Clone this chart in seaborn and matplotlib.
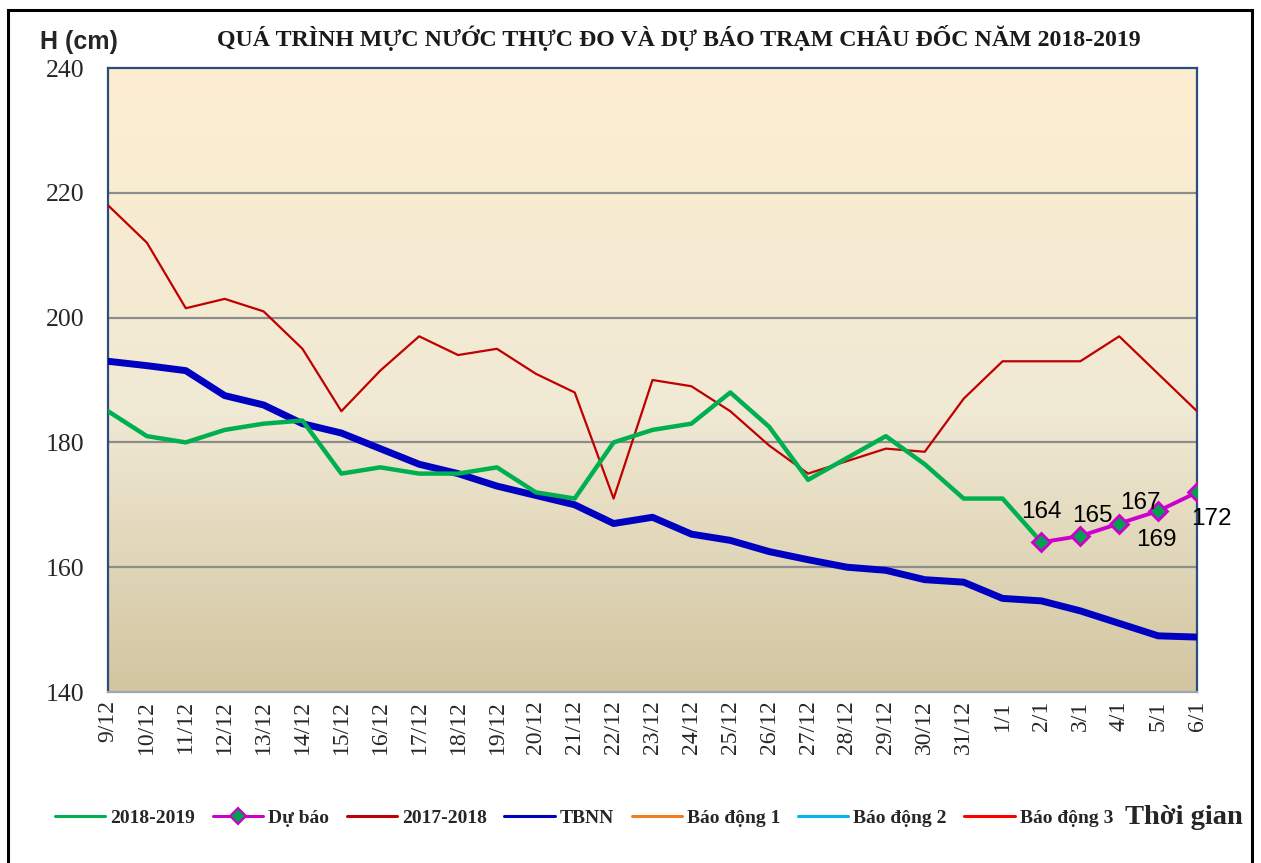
import numpy as np
import pandas as pd
import matplotlib
matplotlib.use("Agg")
import matplotlib.pyplot as plt
from matplotlib.colors import LinearSegmentedColormap
from matplotlib.lines import Line2D
from matplotlib.patches import Rectangle
import seaborn as sns

# --- data ---
dates = ["9/12", "10/12", "11/12", "12/12", "13/12", "14/12", "15/12", "16/12",
         "17/12", "18/12", "19/12", "20/12", "21/12", "22/12", "23/12", "24/12",
         "25/12", "26/12", "27/12", "28/12", "29/12", "30/12", "31/12",
         "1/1", "2/1", "3/1", "4/1", "5/1", "6/1"]

h_2018_2019 = [185, 181, 180, 182, 183, 183.5, 175, 176, 175, 175, 176, 172, 171,
               180, 182, 183, 188, 182.5, 174, 177.5, 181, 176.5, 171, 171, 164]

du_bao_dates = ["2/1", "3/1", "4/1", "5/1", "6/1"]
du_bao = [164, 165, 167, 169, 172]

h_2017_2018 = [218, 212, 201.5, 203, 201, 195, 185, 191.5, 197, 194, 195, 191, 188,
               171, 190, 189, 185, 179.5, 175, 177, 179, 178.5, 187, 193, 193, 193,
               197, 191, 185]

tbnn = [193, 192.3, 191.5, 187.5, 186, 183, 181.5, 179, 176.5, 175, 173, 171.5, 170,
        167, 168, 165.3, 164.3, 162.5, 161.2, 160, 159.5, 158, 157.6, 155, 154.6,
        153, 151, 149, 148.8]

pos = {d: i for i, d in enumerate(dates)}
df_now = pd.DataFrame({"x": [pos[d] for d in dates[:len(h_2018_2019)]], "H": h_2018_2019})
df_prev = pd.DataFrame({"x": [pos[d] for d in dates], "H": h_2017_2018})
df_tbnn = pd.DataFrame({"x": [pos[d] for d in dates], "H": tbnn})
df_fc = pd.DataFrame({"x": [pos[d] for d in du_bao_dates], "H": du_bao})

# --- style ---
sns.set_style("white")
plt.rcParams['font.family'] = ['Liberation Serif', 'DejaVu Serif']

c_green = "#00B050"
c_mag = "#CC00CC"
c_red = "#C00000"
c_blue = "#0000C0"

fig = plt.figure(figsize=(12.61, 8.63), dpi=100)
ax = fig.add_axes([108 / 1261, 1 - 692 / 863, 1089 / 1261, 624 / 863])

# gradient background of plot area
cmap = LinearSegmentedColormap.from_list(
    "bg", [(0, "#D2C5A0"), (0.45, "#F0E9D4"), (1, "#FDEED0")])
grad = np.linspace(0, 1, 256).reshape(-1, 1)
ax.imshow(grad, extent=[0, 1, 0, 1], transform=ax.transAxes, aspect="auto",
          cmap=cmap, origin="lower", zorder=0)

for yv in [160, 180, 200, 220]:
    ax.axhline(yv, color="#8C8C8C", lw=1.6, zorder=1)

sns.lineplot(data=df_prev, x="x", y="H", color=c_red, lw=1.6, ax=ax, zorder=3)
sns.lineplot(data=df_tbnn, x="x", y="H", color=c_blue, lw=5, ax=ax, zorder=4)
sns.lineplot(data=df_now, x="x", y="H", color=c_green, lw=3.2, ax=ax, zorder=5)
sns.lineplot(data=df_fc, x="x", y="H", color=c_mag, lw=2.8, marker="D",
             markersize=9, markerfacecolor="#00A050", markeredgecolor=c_mag,
             markeredgewidth=2, ax=ax, zorder=6)

# data labels for forecast
offsets = [(0, 21.5), (8.5, 14.5), (15, 14.5), (-1, -21), (10, -19)]
for d, v, off in zip(du_bao_dates, du_bao, offsets):
    ax.annotate(str(v), (pos[d], v), xytext=off, textcoords="offset points",
                ha="center", va="center", fontsize=17.5,
                family=["Liberation Sans", "DejaVu Sans"], color="black", zorder=7)

ax.set_xlim(0, len(dates) - 1)
ax.set_ylim(140, 240)
ax.set_xticks(range(len(dates)))
ax.set_xticklabels(dates, rotation=90)
ax.set_yticks([140, 160, 180, 200, 220, 240])
ax.tick_params(axis="x", length=0, pad=6, labelsize=17, labelcolor="#262626")
ax.tick_params(axis="y", length=0, pad=17, labelsize=18.5, labelcolor="#262626")
ax.set_xlabel("")
ax.set_ylabel("")
ax.grid(False)

for s in ["left", "right", "top"]:
    ax.spines[s].set_color("#2B4C7E")
    ax.spines[s].set_linewidth(1.6)
ax.spines["bottom"].set_color("#9AA5B5")
ax.spines["bottom"].set_linewidth(1.6)

# texts
fig.text(679 / 1261, 1 - 38 / 863,
         "QUÁ TRÌNH MỰC NƯỚC THỰC ĐO VÀ DỰ BÁO TRẠM CHÂU ĐỐC NĂM 2018-2019",
         ha="center", va="center", fontsize=17.2, fontweight="bold", color="#1A1A1A")
fig.text(40 / 1261, 1 - 42 / 863, "H (cm)", ha="left", va="center", fontsize=18,
         fontweight="bold", family=["Liberation Sans", "DejaVu Sans"], color="#262626")

# legend
handles = [
    Line2D([], [], color=c_green, lw=2.2),
    Line2D([], [], color=c_mag, lw=2.2, marker="D", markersize=8,
           markerfacecolor="#00A050", markeredgecolor=c_mag, markeredgewidth=1.5),
    Line2D([], [], color=c_red, lw=2.2),
    Line2D([], [], color=c_blue, lw=2.2),
    Line2D([], [], color="#F07F1F", lw=2.2),
    Line2D([], [], color="#00B4F0", lw=2.2),
    Line2D([], [], color="#FF0000", lw=2.2),
]
labels = ["2018-2019", "Dự báo", "2017-2018", "TBNN", "Báo động 1", "Báo động 2", "Báo động 3"]
leg = fig.legend(handles, labels, loc="center", bbox_to_anchor=(584 / 1261, 1 - 818 / 863),
                 ncol=7, frameon=False, handlelength=2.6, handletextpad=0.25,
                 columnspacing=0.9,
                 prop={"family": "Liberation Serif", "weight": "bold", "size": 14})
for t in leg.get_texts():
    t.set_color("#262626")
fig.text(1125 / 1261, 1 - 817 / 863, "Thời gian", ha="left", va="center",
         fontsize=20.5, fontweight="bold", color="#262626")

# outer frame
fig.add_artist(Rectangle((8 / 1261, -0.05), 1244 / 1261, 1 - 10 / 863 + 0.05,
                         fill=False, lw=2.2, ec="black", transform=fig.transFigure))

fig.savefig("out.png", dpi=100)
